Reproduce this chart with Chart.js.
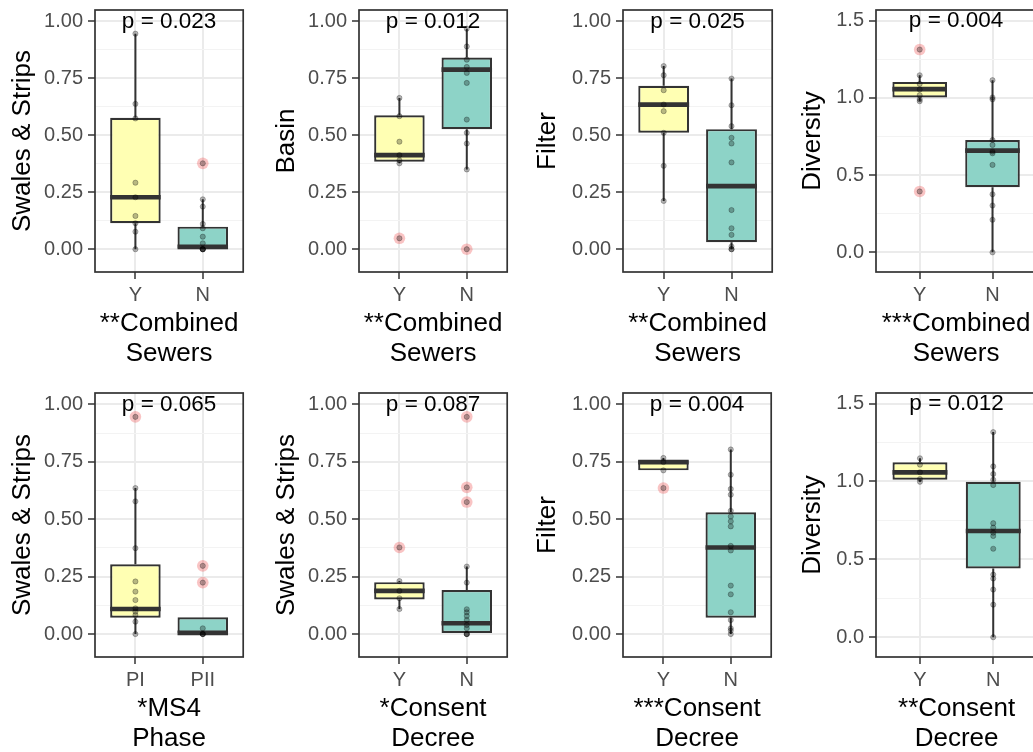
<!DOCTYPE html>
<html lang="en">
<head>
<meta charset="UTF-8">
<title>Stormwater practice shares</title>
<script src="https://cdn.jsdelivr.net/npm/chart.js"></script>
<style>
  html, body { margin: 0; padding: 0; background: #fff; overflow: hidden; }
  body { width: 1033px; height: 752px; position: relative; }
  canvas { position: absolute; }
</style>
</head>
<body>
<script>
// groups on the x axis
const groupsYN = ['Y', 'N'];
const groupsPhase = ['PI', 'PII'];

// y tick labels
const ticksShare = [0, 0.25, 0.5, 0.75, 1];
const tickLabelsShare = ['0.00', '0.25', '0.50', '0.75', '1.00'];
const ticksDiversity = [0, 0.5, 1, 1.5];
const tickLabelsDiversity = ['0.0', '0.5', '1.0', '1.5'];

// box stats per group: [lower whisker, q1, median, q3, upper whisker]

// Swales & Strips ~ Combined Sewers
const swalesSewerY = [0.946, 0.638, 0.574, 0.292, 0.228, 0.146, 0.114, 0.077, 0];
const swalesSewerN = [0.377, 0.219, 0.187, 0.111, 0.092, 0.055, 0.026, 0, 0, 0, 0];
const swalesSewerBox = [[0, 0.114, 0.228, 0.577, 0.946], [0, 0, 0.01, 0.099, 0.219]];
const swalesSewerOut = [[], [0.377]];

// Basin ~ Combined Sewers
const basinSewerY = [0.664, 0.584, 0.472, 0.413, 0.390, 0.377, 0.048];
const basinSewerN = [0.968, 0.890, 0.832, 0.800, 0.774, 0.730, 0.569, 0.511, 0.464, 0.350, 0];
const basinSewerBox = [[0.377, 0.384, 0.413, 0.588, 0.664], [0.350, 0.527, 0.788, 0.841, 0.968]];
const basinSewerOut = [[0.048], [0]];

// Filter ~ Combined Sewers
const filterSewerY = [0.804, 0.764, 0.698, 0.635, 0.606, 0.511, 0.366, 0.212];
const filterSewerN = [0.749, 0.632, 0.540, 0.489, 0.464, 0.381, 0.172, 0.092, 0.063, 0.012, 0, 0];
const filterSewerBox = [[0.212, 0.511, 0.635, 0.717, 0.804], [0, 0.031, 0.277, 0.527, 0.749]];
const filterSewerOut = [[], []];

// Diversity ~ Combined Sewers
const diversitySewerY = [1.312, 1.146, 1.090, 1.054, 1.017, 0.990, 0.978, 0.394];
const diversitySewerN = [1.114, 1.002, 0.990, 0.727, 0.695, 0.652, 0.641, 0.566, 0.376, 0.303, 0.211, 0];
const diversitySewerBox = [[0.978, 1.002, 1.056, 1.103, 1.146], [0, 0.422, 0.658, 0.727, 1.114]];
const diversitySewerOut = [[1.312, 0.394], []];

// Swales & Strips ~ MS4 Phase
const swalesPhaseI = [0.946, 0.636, 0.578, 0.374, 0.229, 0.185, 0.148, 0.112, 0.098, 0.083, 0.054, 0];
const swalesPhaseII = [0.297, 0.224, 0.025, 0, 0, 0];
const swalesPhaseBox = [[0, 0.071, 0.109, 0.304, 0.636], [0, 0, 0.005, 0.073, 0.073]];
const swalesPhaseOut = [[0.946], [0.297, 0.224]];

// Swales & Strips ~ Consent Decree
const swalesDecreeY = [0.377, 0.231, 0.188, 0.156, 0.109];
const swalesDecreeN = [0.946, 0.639, 0.575, 0.294, 0.224, 0.108, 0.095, 0.079, 0.061, 0.039, 0.025, 0, 0, 0];
const swalesDecreeBox = [[0.109, 0.151, 0.188, 0.226, 0.231], [0, 0, 0.047, 0.192, 0.294]];
const swalesDecreeOut = [[0.377], [0.946, 0.639, 0.575]];

// Filter ~ Consent Decree
const filterDecreeY = [0.767, 0.749, 0.713, 0.636];
const filterDecreeN = [0.804, 0.694, 0.632, 0.607, 0.537, 0.512, 0.491, 0.469, 0.384, 0.364, 0.211, 0.173, 0.095, 0.061, 0.025, 0.015, 0];
const filterDecreeBox = [[0.713, 0.713, 0.749, 0.757, 0.767], [0, 0.071, 0.377, 0.530, 0.804]];
const filterDecreeOut = [[0.636], []];

// Diversity ~ Consent Decree
const diversityDecreeY = [1.149, 1.108, 1.059, 1.016, 0.998];
const diversityDecreeN = [1.317, 1.097, 1.048, 1.011, 0.977, 0.732, 0.704, 0.671, 0.650, 0.568, 0.402, 0.377, 0.306, 0.209, 0];
const diversityDecreeBox = [[0.998, 1.011, 1.059, 1.123, 1.149], [0, 0.441, 0.682, 0.998, 1.317]];
const diversityDecreeOut = [[], []];

const pLabels = ['p = 0.023', 'p = 0.012', 'p = 0.025', 'p = 0.004',
                 'p = 0.065', 'p = 0.087', 'p = 0.004', 'p = 0.012'];

const FONT = '"Liberation Sans", Arial, Helvetica, sans-serif';
const FILLS = ['#FFFFB3', '#8DD3C7'];
const INK = '#333333';
const BOX_HALF = 0.375;   // half of the box width, in x units

const scales = {
  share: { min: -0.1, max: 1.05, ticks: ticksShare, labels: tickLabelsShare, pY: 1.0 },
  diversity: { min: -0.127, max: 1.568, ticks: ticksDiversity, labels: tickLabelsDiversity, pY: 1.5 }
};

const panels = [
  { yTitle: 'Swales & Strips', xTitle: ['**Combined', 'Sewers'], groups: groupsYN, scale: 'share',
    pts: [swalesSewerY, swalesSewerN], box: swalesSewerBox, out: swalesSewerOut },
  { yTitle: 'Basin', xTitle: ['**Combined', 'Sewers'], groups: groupsYN, scale: 'share',
    pts: [basinSewerY, basinSewerN], box: basinSewerBox, out: basinSewerOut },
  { yTitle: 'Filter', xTitle: ['**Combined', 'Sewers'], groups: groupsYN, scale: 'share',
    pts: [filterSewerY, filterSewerN], box: filterSewerBox, out: filterSewerOut },
  { yTitle: 'Diversity', xTitle: ['***Combined', 'Sewers'], groups: groupsYN, scale: 'diversity',
    pts: [diversitySewerY, diversitySewerN], box: diversitySewerBox, out: diversitySewerOut },
  { yTitle: 'Swales & Strips', xTitle: ['*MS4', 'Phase'], groups: groupsPhase, scale: 'share',
    pts: [swalesPhaseI, swalesPhaseII], box: swalesPhaseBox, out: swalesPhaseOut },
  { yTitle: 'Swales & Strips', xTitle: ['*Consent', 'Decree'], groups: groupsYN, scale: 'share',
    pts: [swalesDecreeY, swalesDecreeN], box: swalesDecreeBox, out: swalesDecreeOut },
  { yTitle: 'Filter', xTitle: ['***Consent', 'Decree'], groups: groupsYN, scale: 'share',
    pts: [filterDecreeY, filterDecreeN], box: filterDecreeBox, out: filterDecreeOut },
  { yTitle: 'Diversity', xTitle: ['**Consent', 'Decree'], groups: groupsYN, scale: 'diversity',
    pts: [diversityDecreeY, diversityDecreeN], box: diversityDecreeBox, out: diversityDecreeOut }
];

// grid placement of the panels
const colPlotLeft = [95, 359, 623, 876];
const colPlotWidth = [152, 152, 152, 164];
const colAxisWidth = [87, 87, 90, 78];
const rowTop = [0, 383];
const rowPlotHeight = [262, 264];
const PAD_TOP = 10, X_AXIS_H = 96;

// frame round the plot area and the p-value label
const panelFrame = {
  id: 'panelFrame',
  afterDatasetsDraw(chart, args, opts) {
    const { ctx, chartArea: a } = chart;
    ctx.save();
    ctx.font = '22.5px ' + FONT;
    ctx.fillStyle = '#000';
    ctx.textAlign = 'center';
    ctx.textBaseline = 'middle';
    ctx.fillText(opts.label, chart.scales.x.getPixelForValue(1.5), chart.scales.y.getPixelForValue(opts.y));
    ctx.strokeStyle = INK;
    ctx.lineWidth = 1.7;
    ctx.strokeRect(a.left, a.top, a.width, a.height);
    ctx.restore();
  }
};

function segments(list) {
  // join pairs of points into one line with gaps between them
  const out = [];
  list.forEach((pair, i) => {
    if (i > 0) out.push({ x: pair[0].x, y: null });
    out.push(pair[0], pair[1]);
  });
  return out;
}

panels.forEach((p, idx) => {
  const row = Math.floor(idx / 4), col = idx % 4;
  const sc = scales[p.scale];
  const axisW = colAxisWidth[col];
  const plotW = colPlotWidth[col];
  const plotH = rowPlotHeight[row];

  const canvas = document.createElement('canvas');
  canvas.width = axisW + plotW + 2;
  canvas.height = PAD_TOP + plotH + X_AXIS_H;
  canvas.style.left = (colPlotLeft[col] - axisW) + 'px';
  canvas.style.top = rowTop[row] + 'px';
  document.body.appendChild(canvas);

  // minor grid lines half way between the labelled ticks
  const step = sc.ticks[1] - sc.ticks[0];
  const gridVals = [];
  sc.ticks.forEach((t, i) => {
    gridVals.push(t);
    if (i < sc.ticks.length - 1) gridVals.push(t + step / 2);
  });
  const labelOf = new Map(sc.ticks.map((t, i) => [t, sc.labels[i]]));
  const isMajor = v => labelOf.has(v);

  const whiskers = segments(p.box.flatMap((b, i) => [
    [{ x: i + 1, y: b[3] }, { x: i + 1, y: b[4] }],
    [{ x: i + 1, y: b[0] }, { x: i + 1, y: b[1] }]
  ]));
  const medians = segments(p.box.map((b, i) => [
    { x: i + 1 - BOX_HALF, y: b[2] }, { x: i + 1 + BOX_HALF, y: b[2] }
  ]));

  new Chart(canvas, {
    type: 'scatter',
    data: {
      datasets: [
        {
          type: 'line', data: whiskers, showLine: true, spanGaps: false,
          borderColor: INK, borderWidth: 2, pointRadius: 0, order: 5
        },
        {
          type: 'bar',
          data: p.box.map((b, i) => ({ x: i + 1, y: [b[1], b[3]] })),
          backgroundColor: FILLS, borderColor: INK, borderWidth: 2.2, borderSkipped: false,
          barPercentage: 1, categoryPercentage: 0.75, order: 4
        },
        {
          type: 'line', data: medians, showLine: true, spanGaps: false,
          borderColor: INK, borderWidth: 4.7, borderCapStyle: 'butt', pointRadius: 0, order: 3
        },
        {
          data: p.out.flatMap((vals, i) => vals.map(v => ({ x: i + 1, y: v }))),
          pointRadius: 5.8, backgroundColor: 'rgba(235, 60, 60, 0.3)', borderWidth: 0, order: 2
        },
        {
          data: p.pts.flatMap((vals, i) => vals.map(v => ({ x: i + 1, y: v }))),
          pointRadius: 2.6, backgroundColor: 'rgba(0, 0, 0, 0.28)',
          borderColor: 'rgba(0, 0, 0, 0.32)', borderWidth: 0.8, order: 1
        }
      ]
    },
    options: {
      responsive: false,
      animation: false,
      events: [],
      layout: { padding: { top: PAD_TOP, left: 0, right: 2, bottom: 0 } },
      plugins: {
        legend: { display: false },
        tooltip: { enabled: false },
        panelFrame: { label: pLabels[idx], y: sc.pY }
      },
      scales: {
        x: {
          type: 'linear', min: 0.4, max: 2.6, offset: false,
          afterBuildTicks: s => { s.ticks = p.groups.map((g, i) => ({ value: i + 1 })); },
          afterFit: s => { s.height = X_AXIS_H; s.paddingLeft = 0; s.paddingRight = 0; },
          ticks: {
            autoSkip: false, maxRotation: 0, padding: 4, color: '#4D4D4D',
            font: { family: FONT, size: 20 },
            callback: v => p.groups[v - 1]
          },
          grid: { color: '#EBEBEB', lineWidth: 2, tickColor: INK, tickLength: 7, tickWidth: 1.5, offset: false },
          border: { display: false },
          title: {
            display: true, text: p.xTitle, color: '#000', padding: 0,
            font: { family: FONT, size: 26, lineHeight: 1.12 }
          }
        },
        y: {
          type: 'linear', min: sc.min, max: sc.max,
          afterBuildTicks: s => { s.ticks = gridVals.map(v => ({ value: v })); },
          afterFit: s => { s.width = axisW; s.paddingTop = 0; s.paddingBottom = 0; },
          ticks: {
            autoSkip: false, padding: 5, color: '#4D4D4D',
            font: { family: FONT, size: 20 },
            callback: v => labelOf.get(v) ?? ''
          },
          grid: {
            color: c => (c.tick && isMajor(c.tick.value)) ? '#EBEBEB' : '#F3F3F3',
            lineWidth: c => (c.tick && isMajor(c.tick.value)) ? 2 : 1,
            tickColor: c => (c.tick && isMajor(c.tick.value)) ? INK : 'rgba(0,0,0,0)',
            tickLength: 7, tickWidth: 1.5
          },
          border: { display: false },
          title: {
            display: true, text: p.yTitle, color: '#000', padding: 0,
            font: { family: FONT, size: 26, lineHeight: 1.15 }
          }
        }
      }
    },
    plugins: [panelFrame]
  });
});
</script>
</body>
</html>
